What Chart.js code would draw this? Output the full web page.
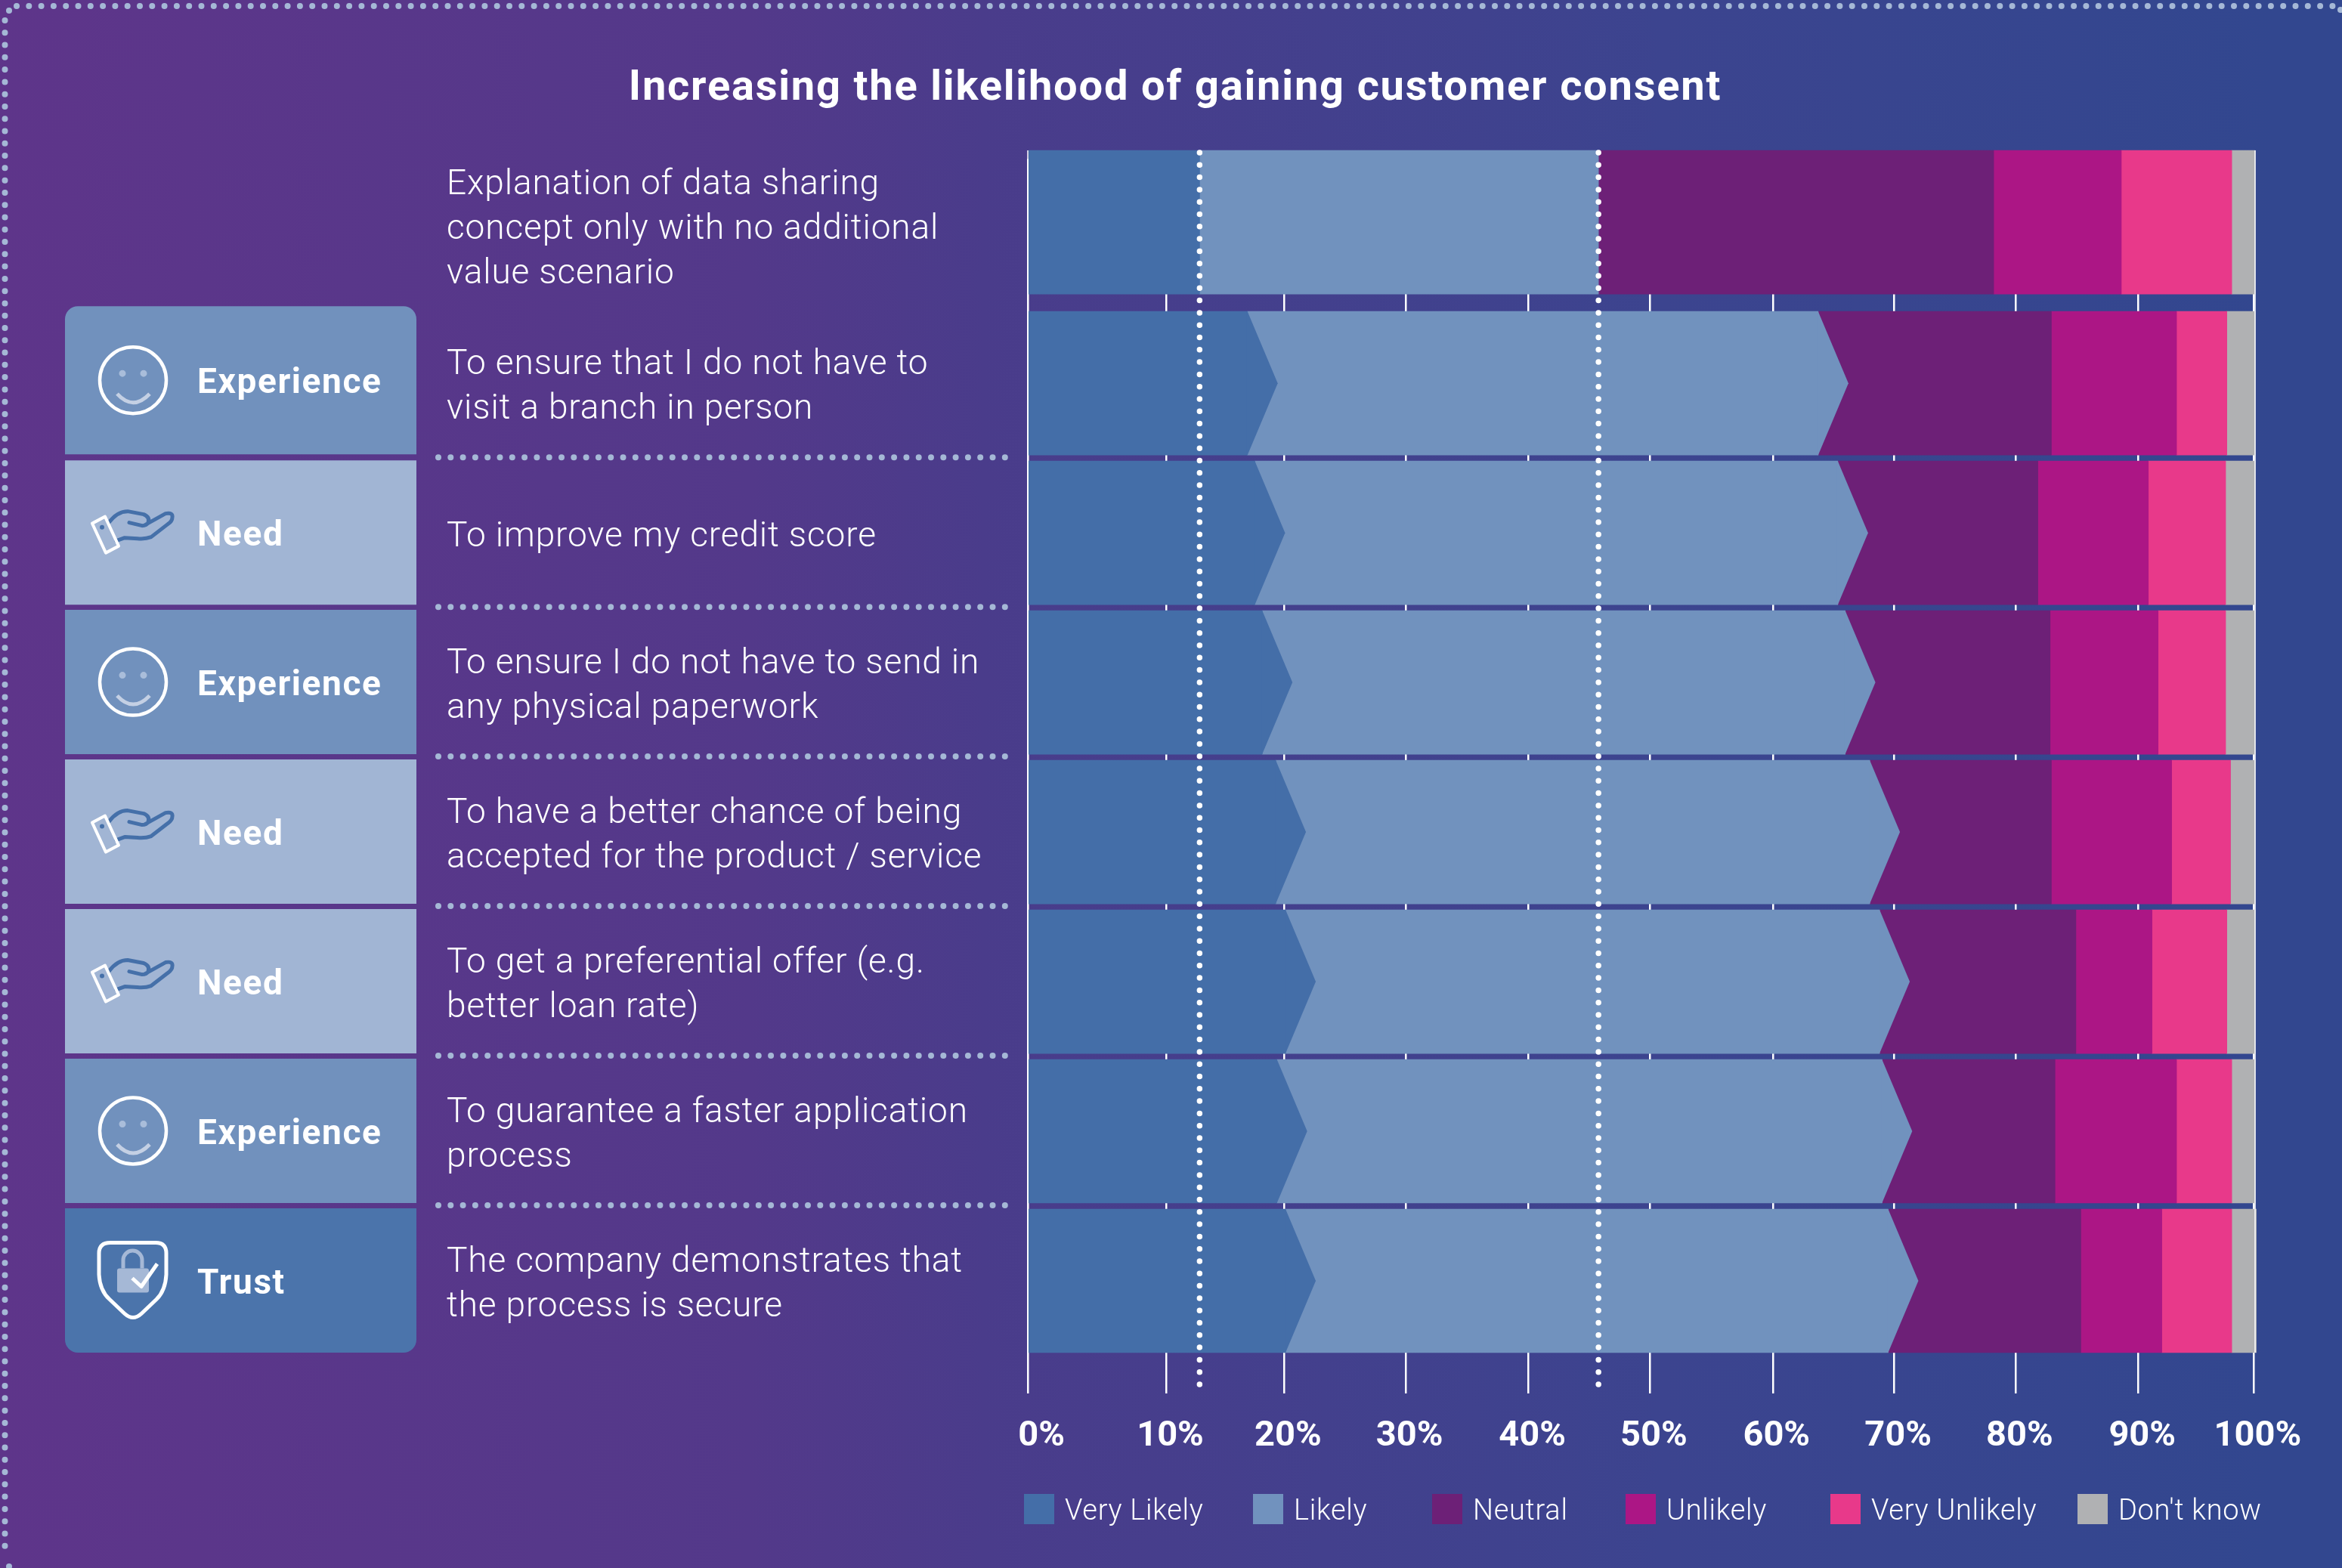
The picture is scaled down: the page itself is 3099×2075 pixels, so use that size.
<!DOCTYPE html>
<html>
<head>
<meta charset="utf-8">
<title>Increasing the likelihood of gaining customer consent</title>
<script src="https://cdn.jsdelivr.net/npm/chart.js@4"></script>
<style>
    html, body { margin: 0; padding: 0; overflow: hidden; }
    body { width: 3099px; height: 2075px; background: linear-gradient(90deg, #5e358a 0%, #53398a 32%, #4a3c8b 42%, #3c448f 71%, #32478f 97%); }
    canvas { display: block; }
</style>
</head>
<body>
<canvas id="chart" width="3099" height="2075"></canvas>
<script>
const categories = [
    ['Explanation of data sharing', 'concept only with no additional', 'value scenario'],
    ['To ensure that I do not have to', 'visit a branch in person'],
    ['To improve my credit score'],
    ['To ensure I do not have to send in', 'any physical paperwork'],
    ['To have a better chance of being', 'accepted for the product / service'],
    ['To get a preferential offer (e.g.', 'better loan rate)'],
    ['To guarantee a faster application', 'process'],
    ['The company demonstrates that', 'the process is secure']
];
const rowGroups = [null, 'Experience', 'Need', 'Experience', 'Need', 'Need', 'Experience', 'Trust'];

const veryLikely = [14.0, 17.9, 18.5, 19.1, 20.2, 21.0, 20.3, 21.0];
const likely = [32.5, 46.5, 47.5, 47.5, 48.4, 48.4, 49.3, 49.1];
const neutral = [32.2, 19.0, 16.3, 16.7, 14.8, 16.0, 14.1, 15.7];
const unlikely = [10.4, 10.2, 9.0, 8.8, 9.8, 6.2, 9.9, 6.6];
const veryUnlikely = [9.0, 4.1, 6.3, 5.5, 4.8, 6.1, 4.5, 5.7];
const dontKnow = [1.9, 2.3, 2.4, 2.4, 2.0, 2.3, 1.9, 2.0];

// the printed ticks are not evenly spaced, so they sit where the picture has them
const tickValues = [0, 11.3, 20.9, 30.8, 40.8, 50.7, 60.7, 70.6, 80.5, 90.5, 99.9];
const tickLabels = ['0%', '10%', '20%', '30%', '40%', '50%', '60%', '70%', '80%', '90%', '100%'];

const FONT = 'Roboto';
const DOT_COLOR = '#a5b8d6';
const groupColors = { Experience: '#7191bd', Need: '#a1b5d4', Trust: '#4b74ab' };
const legendLefts = [1355, 1658, 1895, 2151, 2422, 2749];

// first row stands a little apart from the other seven
class RowScale extends Chart.CategoryScale {
    static id = 'rowCategory';
    static defaults = Chart.CategoryScale.defaults;
    getPixelForValue(value, index) {
        return super.getPixelForValue(value, index) - (value === 0 ? 15 : 0);
    }
    getPixelForTick(index) {
        return super.getPixelForTick(index) + (index === 0 ? 4 : 0);
    }
    drawLabels(area) {
        this.ctx.save();
        this.ctx.letterSpacing = '0.87px';
        super.drawLabels(area);
        this.ctx.restore();
    }
}
Chart.register(RowScale);

function dotted(ctx, x1, y1, x2, y2, gap, width, color) {
    ctx.save();
    ctx.strokeStyle = color;
    ctx.lineWidth = width;
    ctx.lineCap = 'round';
    ctx.setLineDash([0, gap]);
    ctx.beginPath();
    ctx.moveTo(x1, y1);
    ctx.lineTo(x2, y2);
    ctx.stroke();
    ctx.restore();
}

function drawSmiley(ctx, c) {
    ctx.strokeStyle = '#fff';
    ctx.lineWidth = 4.5;
    ctx.beginPath();
    ctx.arc(176, c, 44, 0, Math.PI * 2);
    ctx.stroke();
    ctx.fillStyle = '#a9bdda';
    ctx.beginPath();
    ctx.arc(162, c - 9, 4.5, 0, Math.PI * 2);
    ctx.arc(190, c - 9, 4.5, 0, Math.PI * 2);
    ctx.fill();
    ctx.strokeStyle = '#c4d0e4';
    ctx.lineWidth = 5;
    ctx.beginPath();
    ctx.moveTo(155, c + 18);
    ctx.quadraticCurveTo(176, c + 41, 198, c + 18);
    ctx.stroke();
}

function drawHand(ctx, c) {
    ctx.lineJoin = 'round';
    ctx.lineCap = 'round';
    ctx.strokeStyle = '#4570a9';
    ctx.lineWidth = 5;
    ctx.beginPath();
    ctx.moveTo(144, c - 13);
    ctx.quadraticCurveTo(155, c - 28, 169, c - 28);
    ctx.lineTo(190, c - 24);
    ctx.quadraticCurveTo(199, c - 20, 196, c - 13);
    ctx.quadraticCurveTo(194, c - 9, 188, c - 9);
    ctx.lineTo(171, c - 13);
    ctx.moveTo(192, c - 10);
    ctx.lineTo(219, c - 25);
    ctx.quadraticCurveTo(229, c - 27, 228, c - 20);
    ctx.quadraticCurveTo(228, c - 15, 222, c - 11);
    ctx.lineTo(200, c + 6);
    ctx.quadraticCurveTo(192, c + 9, 182, c + 8);
    ctx.lineTo(165, c + 7);
    ctx.lineTo(154, c + 11);
    ctx.stroke();
    ctx.fillStyle = '#4570a9';
    ctx.beginPath();
    ctx.arc(135, c - 7, 3, 0, Math.PI * 2);
    ctx.fill();
    ctx.strokeStyle = '#fff';
    ctx.lineWidth = 4;
    ctx.beginPath();
    ctx.moveTo(122, c - 12);
    ctx.lineTo(139, c - 21);
    ctx.lineTo(157, c + 18);
    ctx.lineTo(140, c + 27);
    ctx.closePath();
    ctx.stroke();
}

function drawShield(ctx, c) {
    ctx.lineJoin = 'round';
    ctx.lineCap = 'butt';
    ctx.strokeStyle = '#fff';
    ctx.lineWidth = 5;
    ctx.beginPath();
    ctx.moveTo(146, c - 50);
    ctx.lineTo(206, c - 50);
    ctx.quadraticCurveTo(220, c - 50, 220, c - 36);
    ctx.lineTo(220, c - 8);
    ctx.quadraticCurveTo(219, c + 13, 207, c + 25);
    ctx.lineTo(187, c + 44);
    ctx.quadraticCurveTo(176, c + 54, 165, c + 44);
    ctx.lineTo(145, c + 25);
    ctx.quadraticCurveTo(132, c + 13, 131, c - 8);
    ctx.lineTo(131, c - 36);
    ctx.quadraticCurveTo(131, c - 50, 146, c - 50);
    ctx.closePath();
    ctx.stroke();
    ctx.fillStyle = '#a5b8d6';
    ctx.beginPath();
    ctx.roundRect(155, c - 16, 42, 32, 3);
    ctx.fill();
    ctx.strokeStyle = '#a5b8d6';
    ctx.lineWidth = 5;
    ctx.beginPath();
    ctx.moveTo(163, c - 16);
    ctx.lineTo(163, c - 27);
    ctx.arc(175.5, c - 27, 12.5, Math.PI, 0);
    ctx.lineTo(188, c - 16);
    ctx.stroke();
    ctx.strokeStyle = '#fff';
    ctx.beginPath();
    ctx.moveTo(175, c - 3);
    ctx.lineTo(187, c + 8);
    ctx.lineTo(208, c - 22);
    ctx.stroke();
}

const decor = {
    id: 'decor',
    afterLayout(chart) {
        // title is centred on the whole picture, not on the padded box
        const title = chart.titleBlock;
        title.left = 0;
        title.right = 3110;
        if (!title.spaced) {
            const drawTitle = title.draw.bind(title);
            title.draw = () => {
                chart.ctx.save();
                chart.ctx.letterSpacing = '1.8px';
                drawTitle();
                chart.ctx.restore();
            };
            title.spaced = true;
        }
    },
    beforeDatasetsDraw(chart) {
        const ctx = chart.ctx;
        const y = chart.scales.y;

        // page border, the right and bottom runs fall off the picture
        dotted(ctx, 22, 8, 3087, 8, 16.3, 8, DOT_COLOR);
        dotted(ctx, 6.5, 27, 6.5, 2062, 16.28, 8, DOT_COLOR);
        dotted(ctx, 12, 14, 12, 14.01, 16, 8, DOT_COLOR);
        dotted(ctx, 3097, 13, 3097, 13.01, 16, 8, DOT_COLOR);
        dotted(ctx, 12, 2073, 12, 2073.01, 16, 8, DOT_COLOR);

        rowGroups.forEach((group, i) => {
            if (!group) return;
            const mid = y.getPixelForValue(i);
            const first = i === 1;
            const last = i === rowGroups.length - 1;
            const top = mid - (first ? 102 : 96);
            const bottom = first ? mid + 94 : mid + 95;
            const c = (top + bottom) / 2;
            ctx.save();
            ctx.fillStyle = groupColors[group];
            ctx.beginPath();
            ctx.roundRect(86, top, 465, bottom - top, [first ? 17 : 0, first ? 17 : 0, last ? 17 : 0, last ? 17 : 0]);
            ctx.fill();
            if (group === 'Experience') drawSmiley(ctx, c);
            if (group === 'Need') drawHand(ctx, c);
            if (group === 'Trust') drawShield(ctx, c);
            ctx.fillStyle = '#fff';
            ctx.font = `700 46px ${FONT}`;
            ctx.letterSpacing = '1.6px';
            ctx.textAlign = 'left';
            ctx.textBaseline = 'alphabetic';
            ctx.fillText(group, 261, c + 17);
            ctx.restore();
            if (!last) {
                dotted(ctx, 580, mid + 98, 1334, mid + 98, 16.3, 8, DOT_COLOR);
            }
        });

        // legend, spaced as in the picture rather than evenly
        chart.data.datasets.forEach((ds, i) => {
            ctx.save();
            ctx.fillStyle = ds.backgroundColor;
            ctx.fillRect(legendLefts[i], 1977, 40, 40);
            ctx.fillStyle = '#fff';
            ctx.font = `300 38px ${FONT}`;
            ctx.letterSpacing = '0.7px';
            ctx.textBaseline = 'alphabetic';
            ctx.fillText(ds.label, legendLefts[i] + 54, 2011);
            ctx.restore();
        });
    },
    afterDatasetsDraw(chart) {
        const ctx = chart.ctx;
        const x = chart.scales.x;
        const y = chart.scales.y;

        // arrow heads on the two likely segments, all rows but the first
        const running = categories.map(() => 0);
        [0, 1].forEach(d => {
            const ds = chart.data.datasets[d];
            ctx.save();
            ctx.fillStyle = ds.backgroundColor;
            ds.data.forEach((v, i) => {
                running[i] += v;
                if (i === 0) return;
                const px = x.getPixelForValue(running[i]);
                const mid = y.getPixelForValue(i);
                ctx.beginPath();
                ctx.moveTo(px - 1, mid - 95);
                ctx.lineTo(px, mid - 95);
                ctx.lineTo(px + 40, mid);
                ctx.lineTo(px, mid + 95);
                ctx.lineTo(px - 1, mid + 95);
                ctx.closePath();
                ctx.fill();
            });
            ctx.restore();
        });

        // thin edge lines at both ends of the bars
        ctx.save();
        ctx.strokeStyle = '#fff';
        ctx.lineWidth = 1.5;
        [0, 100].forEach(v => {
            const px = x.getPixelForValue(v);
            ctx.beginPath();
            ctx.moveTo(px, 199);
            ctx.lineTo(px, 1790);
            ctx.stroke();
        });
        ctx.restore();

        // dotted guides carried down from the first row
        [veryLikely[0], veryLikely[0] + likely[0]].forEach(v => {
            const px = x.getPixelForValue(v);
            dotted(ctx, px, 202, px, 1842, 16.3, 7.5, '#fff');
        });
    }
};

const seriesNames = ['Very Likely', 'Likely', 'Neutral', 'Unlikely', 'Very Unlikely', "Don't know"];
const seriesValues = [veryLikely, likely, neutral, unlikely, veryUnlikely, dontKnow];
const seriesColors = ['#446ea8', '#7192be', '#6d2077', '#ac1685', '#e8398a', '#b0b1b3'];

new Chart(document.getElementById('chart').getContext('2d'), {
    type: 'bar',
    data: {
        labels: categories,
        datasets: seriesNames.map((name, i) => ({
            label: name,
            data: seriesValues[i],
            backgroundColor: seriesColors[i],
            borderWidth: 0,
            barThickness: 190,
            clip: false
        }))
    },
    options: {
        indexAxis: 'y',
        responsive: false,
        animation: false,
        devicePixelRatio: 1,
        layout: { padding: { left: 591, right: 115, top: 0, bottom: 151 } },
        plugins: {
            legend: { display: false },
            tooltip: { enabled: false },
            title: {
                display: true,
                text: 'Increasing the likelihood of gaining customer consent',
                color: '#fff',
                font: { family: FONT, size: 56, weight: 700 },
                padding: { top: 84, bottom: 59 }
            }
        },
        scales: {
            x: {
                stacked: true,
                min: 0,
                max: 100,
                afterBuildTicks: scale => { scale.ticks = tickValues.map(value => ({ value })); },
                afterFit: scale => { scale.height = 130; },
                grid: { color: '#fff', lineWidth: 2.5, tickLength: 50, tickColor: '#fff', tickWidth: 2.5 },
                border: { display: false },
                ticks: {
                    color: '#fff',
                    font: { family: FONT, size: 47, weight: 700 },
                    padding: 29,
                    labelOffset: 5,
                    autoSkip: false,
                    maxRotation: 0,
                    // 0% sits right of its tick in the picture
                    callback: (value, index) => (index === 0 ? '\u2007' : '') + tickLabels[index]
                }
            },
            y: {
                type: 'rowCategory',
                stacked: true,
                afterFit: scale => { scale.width = 769; },
                grid: { display: false },
                border: { display: false },
                ticks: {
                    color: '#fff',
                    crossAlign: 'far',
                    autoSkip: false,
                    labelOffset: 6,
                    font: { family: FONT, size: 46, weight: 300, lineHeight: 1.28 }
                }
            }
        }
    },
    plugins: [decor]
});
</script>
</body>
</html>
